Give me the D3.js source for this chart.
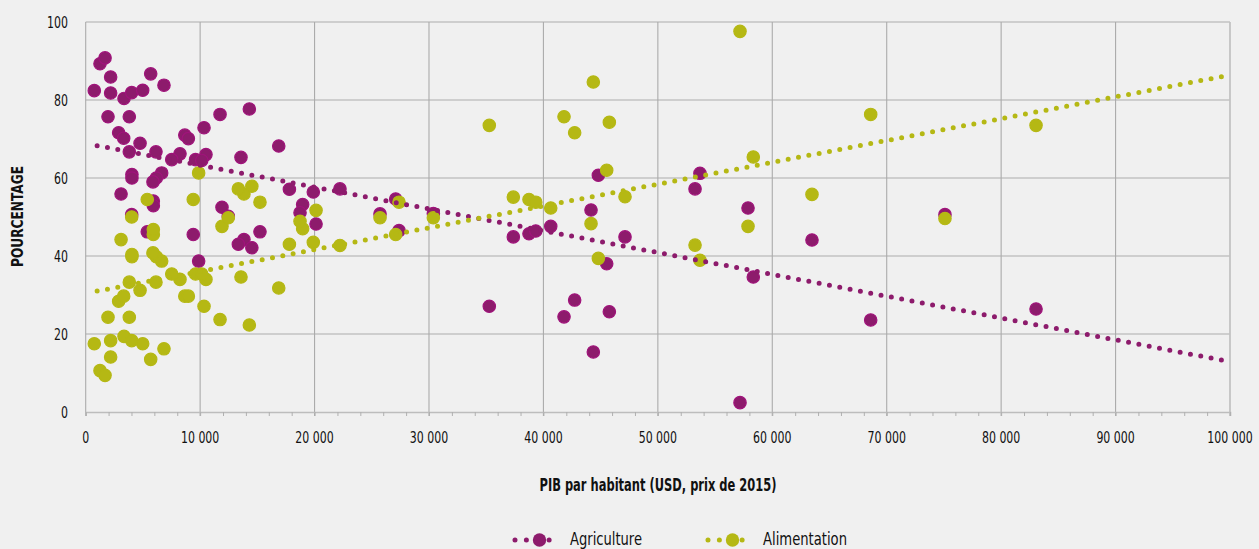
<!DOCTYPE html>
<html>
<head>
<meta charset="utf-8">
<script src="https://cdn.jsdelivr.net/npm/d3@7"></script>
<style>
  html, body { margin: 0; padding: 0; background: #f0f0f0; overflow: hidden; }
  svg { display: block; font-family: "DejaVu Sans Condensed", "DejaVu Sans", sans-serif; font-stretch: condensed; }
</style>
</head>
<body>
<div id="chart"></div>
<script>
// PIB par habitant (USD, prix de 2015) — one entry per country
const gdp = [
  750, 1250, 1690, 2180, 2180, 5680, 6840, 3350, 4020, 4980,
  1950, 3810, 2880, 3320, 4750, 3810, 6140, 8660, 8970, 10340,
  8240, 7520, 9600, 10510, 10140, 4040, 4040, 6640, 6170, 5880,
  3090, 5910, 5910, 4020, 5380, 9400, 9870, 11740, 14300, 13570,
  16870, 17800, 19890, 11910, 12460, 18960, 18730, 20130, 15230, 13830,
  13340, 14520, 22220, 27090, 25720, 27380, 30380, 37370, 38740, 39330,
  40640, 44160, 44800, 47130, 45530, 35270, 42730, 41800, 45760, 44360,
  53680, 53250, 57880, 63470, 58340, 68600, 57180, 75090, 83050
];
// Part de l'agriculture (%)
const agriculture = [
  82.4, 89.3, 90.8, 85.9, 81.8, 86.7, 83.8, 80.4, 81.9, 82.5,
  75.7, 75.7, 71.6, 70.2, 68.9, 66.7, 66.7, 71.0, 70.1, 72.9,
  66.2, 64.7, 64.7, 66.0, 64.5, 60.9, 60.0, 61.3, 60.0, 59.0,
  55.9, 54.1, 52.9, 50.6, 46.2, 45.5, 38.7, 76.3, 77.7, 65.3,
  68.2, 57.1, 56.4, 52.5, 50.2, 53.2, 51.1, 48.2, 46.2, 44.2,
  43.0, 42.1, 57.2, 54.6, 50.8, 46.5, 50.9, 44.9, 45.7, 46.4,
  47.6, 51.8, 60.7, 44.9, 38.0, 27.1, 28.7, 24.4, 25.7, 15.4,
  61.2, 57.2, 52.3, 44.1, 34.6, 23.6, 2.4, 50.6, 26.4
];
// Part de l'alimentation (%)
const alimentation = [
  17.5, 10.6, 9.4, 14.1, 18.3, 13.5, 16.2, 19.4, 18.3, 17.5,
  24.3, 24.3, 28.4, 29.7, 31.2, 33.3, 33.3, 29.7, 29.7, 27.1,
  34.0, 35.4, 35.4, 34.0, 35.4, 39.8, 40.4, 38.7, 39.8, 40.8,
  44.2, 45.5, 46.8, 50.0, 54.5, 54.5, 61.3, 23.7, 22.3, 34.6,
  31.8, 43.0, 43.5, 47.6, 49.8, 47.0, 48.9, 51.7, 53.8, 55.9,
  57.2, 57.9, 42.7, 45.5, 49.8, 53.8, 49.8, 55.1, 54.5, 53.8,
  52.3, 48.3, 39.4, 55.2, 62.0, 73.5, 71.6, 75.7, 74.3, 84.6,
  38.9, 42.8, 47.6, 55.8, 65.4, 76.3, 97.6, 49.6, 73.5
];
// Courbes de tendance : [PIB, %]
const trendAgriculture = [[1000, 68.3], [100000, 12.9]];
const trendAlimentation = [[1000, 31.0], [100000, 86.4]];

const seriesNames = ["Agriculture", "Alimentation"];
const xTicks = [0, 10000, 20000, 30000, 40000, 50000, 60000, 70000, 80000, 90000, 100000];
const yTicks = [0, 20, 40, 60, 80, 100];

const width = 1259, height = 549;
const margin = { top: 22, right: 29, bottom: 137, left: 85.7 };
const colors = { Agriculture: "#8d1b6c", Alimentation: "#b5b814" };
const strokes = { Agriculture: "#a0137b", Alimentation: "#b5b814" };
const squeeze = 0.74; // the reference uses a very narrow face

const fr = d3.formatLocale({ decimal: ",", thousands: "\u00a0", grouping: [3], currency: ["", " €"] });
const fmt = fr.format(",.0f");

const svg = d3.select("#chart").append("svg").attr("width", width).attr("height", height);
svg.append("rect").attr("width", width).attr("height", height).attr("fill", "#f0f0f0");

const x = d3.scaleLinear().domain([0, 100000]).range([margin.left, width - margin.right]);
const y = d3.scaleLinear().domain([0, 100]).range([height - margin.bottom, margin.top]);

// grille
const grid = svg.append("g");
grid.selectAll("line.h").data(yTicks.filter((d) => d > 0)).join("line")
  .attr("x1", x(0)).attr("x2", x(100000))
  .attr("y1", (d) => y(d)).attr("y2", (d) => y(d))
  .attr("stroke", "#c3c3c3").attr("stroke-width", 1.6);
grid.selectAll("line.v").data(xTicks).join("line")
  .attr("x1", (d) => x(d)).attr("x2", (d) => x(d))
  .attr("y1", y(100)).attr("y2", y(0) + 4)
  .attr("stroke", (d) => (d === 100000 ? "#c3c3c3" : "#ababab"))
  .attr("stroke-width", (d) => (d === 100000 ? 1.8 : 1.1));

// axe des x
const xAxis = svg.append("g").attr("transform", `translate(0,${y(0)})`)
  .call(d3.axisBottom(x).tickValues(d3.range(0, 100001, 2000)).tickSize(4).tickFormat(""));
xAxis.select(".domain").attr("stroke", "#bdbdbd").attr("stroke-width", 1.6);
xAxis.selectAll(".tick line").attr("stroke", "#b0b0b0");
svg.append("g").selectAll("text").data(xTicks).join("text")
  .attr("transform", (d) => `translate(${x(d)},${y(0) + 31}) scale(${squeeze},1)`)
  .attr("text-anchor", "middle").attr("font-size", 16.5).attr("fill", "#111")
  .text((d) => fmt(d));

// axe des y
svg.append("g").selectAll("text").data(yTicks).join("text")
  .attr("transform", (d) => `translate(68,${y(d) + 6}) scale(${squeeze},1)`)
  .attr("text-anchor", "end").attr("font-size", 16.5).attr("fill", "#111")
  .text((d) => d);

svg.append("text")
  .attr("transform", `translate(23,${(y(0) + y(100)) / 2 - 0.5}) rotate(-90)`)
  .attr("text-anchor", "middle").attr("font-size", 16.5).attr("font-weight", "bold")
  .attr("textLength", 101).attr("lengthAdjust", "spacingAndGlyphs")
  .attr("fill", "#111").text("POURCENTAGE");

svg.append("text")
  .attr("x", 658).attr("y", 491)
  .attr("text-anchor", "middle").attr("font-size", 17.5).attr("font-weight", "bold")
  .attr("textLength", 237).attr("lengthAdjust", "spacingAndGlyphs")
  .attr("fill", "#111").text("PIB par habitant (USD, prix de 2015)");

// points
const rows = gdp.map((g, i) => ({ gdp: g, Agriculture: agriculture[i], Alimentation: alimentation[i] }));
seriesNames.forEach((name) => {
  svg.append("g").selectAll("circle").data(rows).join("circle")
    .attr("cx", (d) => x(d.gdp)).attr("cy", (d) => y(d[name]))
    .attr("r", 6.2).attr("fill", colors[name])
    .attr("stroke", strokes[name]).attr("stroke-width", 1.2);
});

// tendances
const line = d3.line().x((d) => x(d[0])).y((d) => y(d[1]));
[["Agriculture", trendAgriculture], ["Alimentation", trendAlimentation]].forEach(([name, pts]) => {
  svg.append("path").attr("d", line(pts))
    .attr("fill", "none").attr("stroke", colors[name])
    .attr("stroke-width", 5).attr("stroke-linecap", "round")
    .attr("stroke-dasharray", "0 10.5");
});

// légende
const legend = svg.append("g").attr("transform", "translate(515,540)");
const legendWidths = { Agriculture: 72, Alimentation: 84 };
seriesNames.forEach((name, i) => {
  const g = legend.append("g").attr("transform", `translate(${i * 193},0)`);
  g.append("line").attr("x1", 0).attr("x2", 45.5)
    .attr("stroke", colors[name]).attr("stroke-width", 5)
    .attr("stroke-linecap", "round").attr("stroke-dasharray", "0 11.375");
  g.append("circle").attr("cx", 24.5).attr("r", 6.7).attr("fill", colors[name]);
  g.append("text").attr("x", 55).attr("y", 4.5).attr("font-size", 18.5).attr("fill", "#111")
    .attr("textLength", legendWidths[name]).attr("lengthAdjust", "spacingAndGlyphs")
    .text(name);
});
</script>
</body>
</html>
